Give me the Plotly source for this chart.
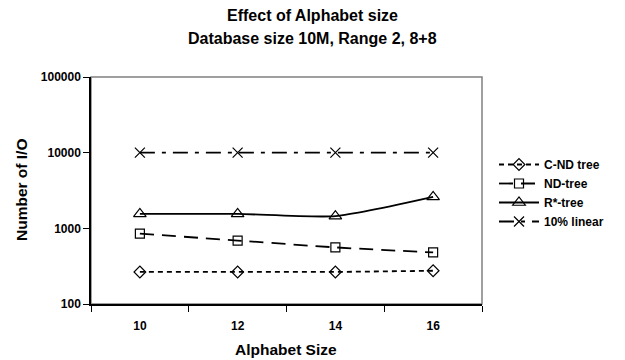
import plotly.graph_objects as go

alphabet_size = [10, 12, 14, 16]
cnd_tree = [265, 265, 265, 275]
nd_tree = [850, 690, 560, 480]
rstar_tree = [1550, 1550, 1450, 2600]
linear_10 = [10000, 10000, 10000, 10000]

y_ticks = [100, 1000, 10000, 100000]
y_tick_text = ["100", "1000", "10000", "100000"]

title_lines = ["Effect of Alphabet size", "Database size 10M, Range 2, 8+8"]

FONT = "Liberation Sans, Arial, sans-serif"

fig = go.Figure()

series = [
    ("C-ND tree", cnd_tree, "diamond-open", 9, "5px,4px", "linear"),
    ("ND-tree", nd_tree, "square-open", 9, "14px,8px", "spline"),
    ("R*-tree", rstar_tree, "triangle-up-open", 11, "solid", "spline"),
    ("10% linear", linear_10, "x-thin", 10, "15px,7px,4px,7px", "linear"),
]
for name, vals, sym, size, dash, shape in series:
    fig.add_trace(go.Scatter(
        x=alphabet_size, y=vals, name=name, mode="lines+markers",
        line=dict(color="black", width=1.8, dash=dash, shape=shape, smoothing=0.6),
        marker=dict(symbol=sym, size=size, color="black",
                    line=dict(color="black", width=1.2)),
    ))

PL, PR, PT, PB = 91, 482, 77, 304
W = PR - PL
H = PB - PT

def px(x):
    return (x - PL) / W

def py(y):
    return (PB - y) / H

annotations = [
    dict(text=title_lines[0], x=px(312), y=py(16)),
    dict(text=title_lines[1], x=px(312), y=py(38)),
]
annotations = [dict(a, xref="paper", yref="paper", xanchor="center", yanchor="middle",
                    showarrow=False, font=dict(size=16, weight="bold", family=FONT))
               for a in annotations]
annotations += [
    dict(text="Number of I/O", xref="paper", yref="paper", x=px(21), y=py(190),
         xanchor="center", yanchor="middle", textangle=-90, showarrow=False,
         font=dict(size=15.5, weight="bold", family=FONT)),
    dict(text="Alphabet Size", xref="paper", yref="paper", x=px(286), y=py(349),
         xanchor="center", yanchor="middle", showarrow=False,
         font=dict(size=15.5, weight="bold", family=FONT)),
]

fig.update_layout(
    width=625, height=360,
    margin=dict(l=PL, r=625 - PR, t=PT, b=360 - PB),
    paper_bgcolor="white", plot_bgcolor="white",
    font=dict(family=FONT, color="black", size=12, weight="bold"),
    showlegend=True,
    legend=dict(x=px(494), xanchor="left", y=py(150), yanchor="top",
                font=dict(size=12, weight="bold", family=FONT),
                itemwidth=40, tracegroupgap=0, bgcolor="rgba(0,0,0,0)"),
    shapes=[dict(type="rect", xref="paper", yref="paper", x0=0, x1=1, y0=0, y1=1,
                 line=dict(color="#808080", width=1.5), layer="below")],
    annotations=annotations,
)

fig.update_xaxes(
    range=[9, 17], tickvals=alphabet_size, ticktext=[str(v) for v in alphabet_size],
    ticks="", showgrid=False, zeroline=False, ticklabelstandoff=10,
    showline=True, linecolor="black", linewidth=1.5,
    tickfont=dict(size=12, weight="bold", family=FONT),
    minor=dict(tickvals=[9, 11, 13, 15, 17], ticks="outside", ticklen=6, tickcolor="black", tickwidth=1.2, showgrid=False),
)
fig.update_yaxes(
    type="log", range=[2, 5], tickvals=y_ticks, ticktext=y_tick_text,
    ticks="outside", ticklen=6, tickcolor="black", tickwidth=1.2,
    showgrid=False, zeroline=False,
    showline=True, linecolor="black", linewidth=1.5,
    tickfont=dict(size=12, weight="bold", family=FONT),
)

fig.write_html("out.html")
